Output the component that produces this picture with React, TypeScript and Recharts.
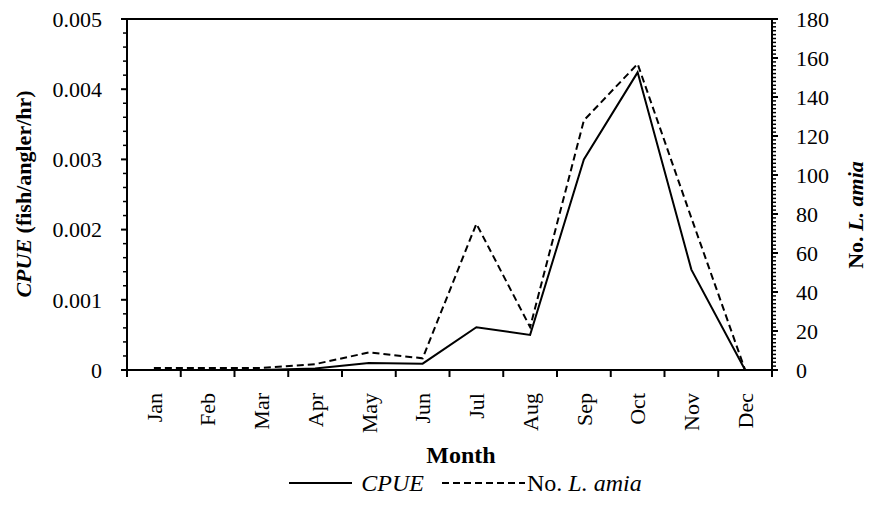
import { LineChart, Line, XAxis, YAxis, Legend, ReferenceLine } from "recharts";

const months = ["Jan", "Feb", "Mar", "Apr", "May", "Jun", "Jul", "Aug", "Sep", "Oct", "Nov", "Dec"];
const cpue = [0, 0, 0, 0.00002, 0.0001, 0.00009, 0.00061, 0.0005, 0.003, 0.00424, 0.00143, 0];
const numLAmia = [1, 1, 1, 3, 9, 6, 75, 22, 128, 157, 78, 0];

const cpueMajorTicks = [0, 0.001, 0.002, 0.003, 0.004, 0.005];
const countMajorTicks = [0, 20, 40, 60, 80, 100, 120, 140, 160, 180];
const CPUE_MINOR_STEPS = 5;
const COUNT_MINOR_STEPS = 10;

const W = 871;
const H = 506;
const LEFT_W = 127;
const RIGHT_W = 99;
const PLOT_W = W - LEFT_W - RIGHT_W;
const FONT = "'Liberation Serif', 'Times New Roman', serif";

const data = months.map((m, i) => ({ month: m, cpue: cpue[i], count: numLAmia[i] }));

// majors plus evenly spaced minor ticks between them
function withMinor(majors: number[], steps: number) {
  const out: number[] = [];
  for (let i = 0; i < majors.length - 1; i++) {
    const a = majors[i];
    const b = majors[i + 1];
    for (let k = 0; k < steps; k++) out.push(Number((a + ((b - a) * k) / steps).toFixed(6)));
  }
  out.push(majors[majors.length - 1]);
  return out;
}

const isMajor = (v: number, majors: number[]) => majors.some((m) => Math.abs(m - v) < 1e-9);

function LeftTick({ x, y, payload }: any) {
  const major = isMajor(payload.value, cpueMajorTicks);
  return (
    <g>
      <line x1={x - (major ? 6 : 4)} x2={x} y1={y} y2={y} stroke="#000" strokeWidth={major ? 2 : 1.5} />
      {major && (
        <text x={x - 25} y={y} dy="0.35em" textAnchor="end" fontSize={22} fontFamily={FONT} fill="#000">
          {payload.value === 0 ? "0" : payload.value.toFixed(3)}
        </text>
      )}
    </g>
  );
}

function RightTick({ x, y, payload }: any) {
  const major = isMajor(payload.value, countMajorTicks);
  return (
    <g>
      <line x1={x} x2={x + (major ? 6 : 4)} y1={y} y2={y} stroke="#000" strokeWidth={major ? 2 : 1.5} />
      {major && (
        <text x={x + 24} y={y} dy="0.35em" textAnchor="start" fontSize={22} fontFamily={FONT} fill="#000">
          {payload.value}
        </text>
      )}
    </g>
  );
}

function MonthTick({ x, y, payload, index }: any) {
  const half = PLOT_W / months.length / 2;
  const ty = y + 23;
  return (
    <g>
      <line x1={x - half} x2={x - half} y1={y} y2={y + 7} stroke="#000" strokeWidth={2} />
      {index === months.length - 1 && (
        <line x1={x + half} x2={x + half} y1={y} y2={y + 7} stroke="#000" strokeWidth={2} />
      )}
      <text
        x={x}
        y={ty}
        dy="0.35em"
        transform={`rotate(-90 ${x} ${ty})`}
        textAnchor="end"
        fontSize={22}
        fontFamily={FONT}
        fill="#000"
      >
        {payload.value}
      </text>
    </g>
  );
}

const leftTitle = () => (
  <text
    x={31}
    y={194}
    transform="rotate(-90 31 194)"
    textAnchor="middle"
    fontSize={22}
    fontWeight="bold"
    fontFamily={FONT}
    fill="#000"
  >
    <tspan fontStyle="italic">CPUE</tspan>
    <tspan> (fish/angler/hr)</tspan>
  </text>
);

const rightTitle = () => (
  <text
    x={863}
    y={215}
    transform="rotate(-90 863 215)"
    textAnchor="middle"
    fontSize={22}
    fontWeight="bold"
    fontFamily={FONT}
    fill="#000"
  >
    <tspan>No. </tspan>
    <tspan fontStyle="italic">L. amia</tspan>
  </text>
);

const monthTitle = () => (
  <text x={461} y={463} textAnchor="middle" fontSize={24} fontWeight="bold" fontFamily={FONT} fill="#000">
    Month
  </text>
);

function LegendBox() {
  return (
    <div
      style={{
        height: 30,
        display: "flex",
        alignItems: "center",
        justifyContent: "center",
        paddingLeft: 60,
        fontFamily: FONT,
        fontSize: 24,
        color: "#000",
      }}
    >
      <svg width={63} height={10}>
        <line x1={0} x2={63} y1={5} y2={5} stroke="#000" strokeWidth={2} />
      </svg>
      <span style={{ fontStyle: "italic", marginLeft: 9 }}>CPUE</span>
      <svg width={83} height={10} style={{ marginLeft: 18 }}>
        <line x1={0} x2={83} y1={5} y2={5} stroke="#000" strokeWidth={2} strokeDasharray="7 4" />
      </svg>
      <span style={{ marginLeft: 2 }}>
        No. <i>L. amia</i>
      </span>
    </div>
  );
}

export default function App() {
  return (
    <div style={{ position: "absolute", left: 0, top: 0 }}>
      <LineChart width={W} height={H} data={data} margin={{ top: 19, right: 0, bottom: 8, left: 0 }}>
        <XAxis
          dataKey="month"
          scale="band"
          interval={0}
          height={98}
          tickSize={0}
          tickMargin={0}
          tickLine={false}
          axisLine={{ stroke: "#000", strokeWidth: 2 }}
          tick={<MonthTick />}
          label={monthTitle}
        />
        <YAxis
          yAxisId="left"
          width={LEFT_W}
          domain={[0, 0.005]}
          ticks={withMinor(cpueMajorTicks, CPUE_MINOR_STEPS)}
          interval={0}
          allowDataOverflow
          tickSize={0}
          tickMargin={0}
          tickLine={false}
          axisLine={{ stroke: "#000", strokeWidth: 2 }}
          tick={<LeftTick />}
          label={leftTitle}
        />
        <YAxis
          yAxisId="right"
          orientation="right"
          width={RIGHT_W}
          domain={[0, 180]}
          ticks={withMinor(countMajorTicks, COUNT_MINOR_STEPS)}
          interval={0}
          allowDataOverflow
          tickSize={0}
          tickMargin={0}
          tickLine={false}
          axisLine={{ stroke: "#000", strokeWidth: 2 }}
          tick={<RightTick />}
          label={rightTitle}
        />
        <ReferenceLine yAxisId="left" y={0.005} stroke="#000" strokeWidth={2} />
        <Line
          yAxisId="left"
          type="linear"
          dataKey="cpue"
          stroke="#000"
          strokeWidth={2}
          dot={false}
          isAnimationActive={false}
        />
        <Line
          yAxisId="right"
          type="linear"
          dataKey="count"
          stroke="#000"
          strokeWidth={2}
          strokeDasharray="7 4"
          dot={false}
          isAnimationActive={false}
        />
        <Legend verticalAlign="bottom" content={() => <LegendBox />} />
      </LineChart>
    </div>
  );
}
